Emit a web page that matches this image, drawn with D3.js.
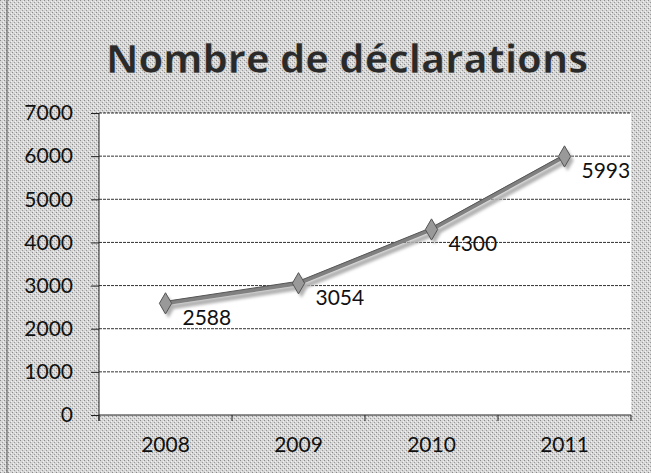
<!DOCTYPE html>
<meta charset="utf-8">
<style type="text/css">
  body { margin: 0; background: #fff; }
  .grid line { stroke: #333; stroke-width: 1; stroke-dasharray: 3 1; }
  .axis path, .axis line { stroke: #222; }
  .axis text { font-family: "Lato", "Open Sans", sans-serif; font-size: 21px; fill: #111; }
  .label { font-family: "Lato", "Open Sans", sans-serif; font-size: 21px; fill: #111; }
</style>
<body>
</body>
<script src="https://d3js.org/d3.v7.min.js"></script>
<script>
  // values
  var years = ["2008", "2009", "2010", "2011"];
  var declarations = [2588, 3054, 4300, 5993];
  var yTicks = [0, 1000, 2000, 3000, 4000, 5000, 6000, 7000];

  var W = 651, H = 473;
  var margin = { top: 113, right: 20, bottom: 58, left: 99 },
    width = W - margin.left - margin.right,
    height = H - margin.top - margin.bottom;

  var svg = d3.select("body").append("svg")
    .attr("width", W)
    .attr("height", H);

  // speckled grey background like the scan
  var defs = svg.append("defs");
  var pat = defs.append("pattern")
    .attr("id", "speckle")
    .attr("width", 4).attr("height", 4)
    .attr("patternUnits", "userSpaceOnUse");
  pat.append("rect").attr("width", 4).attr("height", 4).attr("fill", "#d6d6d6");
  pat.append("rect").attr("x", 0).attr("y", 0).attr("width", 1).attr("height", 1).attr("fill", "#8a8a8a");
  pat.append("rect").attr("x", 2).attr("y", 2).attr("width", 1).attr("height", 1).attr("fill", "#9a9a9a");
  pat.append("rect").attr("x", 3).attr("y", 1).attr("width", 1).attr("height", 1).attr("fill", "#f2f2f2");
  pat.append("rect").attr("x", 1).attr("y", 3).attr("width", 1).attr("height", 1).attr("fill", "#f2f2f2");

  var shadow = defs.append("filter").attr("id", "blur");
  shadow.append("feGaussianBlur").attr("stdDeviation", 1.5);

  svg.append("rect")
    .attr("width", W).attr("height", H)
    .attr("fill", "url(#speckle)");

  // thin frame edge of the scan
  svg.append("line").attr("x1", 7).attr("x2", 7).attr("y1", 0).attr("y2", H)
    .attr("stroke", "#555").attr("stroke-width", 1);

  // title
  svg.append("text")
    .attr("x", 347)
    .attr("y", 73)
    .attr("text-anchor", "middle")
    .style("font-family", "'Open Sans', 'DejaVu Sans', sans-serif")
    .style("font-weight", "bold")
    .style("font-size", "40px")
    .style("fill", "#2a2a2a")
    .style("stroke", "#ddd")
    .style("stroke-width", 0.5)
    .text("Nombre de déclarations");

  var g = svg.append("g")
    .attr("transform", "translate(" + margin.left + "," + margin.top + ")");

  var x = d3.scaleBand()
    .domain(years)
    .range([0, width]);

  var y = d3.scaleLinear()
    .domain([0, 7000])
    .range([height, 0]);

  // white plot area
  g.append("rect")
    .attr("width", width)
    .attr("height", height)
    .attr("fill", "#fff");

  // gridlines
  g.append("g")
    .attr("class", "grid")
    .selectAll("line")
    .data(yTicks.filter(function(d) { return d > 0; }))
    .enter().append("line")
    .attr("x1", 0).attr("x2", width)
    .attr("y1", function(d) { return y(d); })
    .attr("y2", function(d) { return y(d); });

  // y axis
  g.append("g")
    .attr("class", "axis")
    .call(d3.axisLeft(y).tickValues(yTicks).tickSize(8).tickPadding(18).tickFormat(d3.format("d")))
    .call(function(a) { a.select(".domain").attr("d", "M0," + (height + 6) + "V0"); });

  // x axis with ticks between categories
  var xAxis = g.append("g")
    .attr("class", "axis")
    .attr("transform", "translate(0," + height + ")")
    .call(d3.axisBottom(x).tickSize(0).tickPadding(22));
  xAxis.select(".domain").attr("d", "M0,0H" + width);
  xAxis.selectAll(".sep")
    .data(d3.range(years.length + 1))
    .enter().append("line")
    .attr("class", "sep")
    .attr("x1", function(i) { return i * x.bandwidth(); })
    .attr("x2", function(i) { return i * x.bandwidth(); })
    .attr("y1", 0).attr("y2", 6);

  var pts = years.map(function(yr, i) {
    return { year: yr, value: declarations[i] };
  });

  var line = d3.line()
    .x(function(d) { return x(d.year) + x.bandwidth() / 2; })
    .y(function(d) { return y(d.value); });

  var diamond = d3.symbol().type(d3.symbolDiamond).size(130);

  // blurred shadow of the series
  var sh = g.append("g").attr("transform", "translate(3,4)").attr("filter", "url(#blur)");
  sh.append("path").datum(pts).attr("d", line)
    .attr("fill", "none").attr("stroke", "#b0b0b0").attr("stroke-width", 5);
  sh.selectAll("path.m").data(pts).enter().append("path")
    .attr("class", "m").attr("d", diamond).attr("fill", "#b0b0b0")
    .attr("transform", function(d) { return "translate(" + (x(d.year) + x.bandwidth() / 2) + "," + y(d.value) + ")"; });

  // series line
  g.append("path").datum(pts).attr("d", line)
    .attr("fill", "none").attr("stroke", "#808080").attr("stroke-width", 4);
  g.append("path").datum(pts).attr("d", line)
    .attr("fill", "none").attr("stroke", "#555").attr("stroke-width", 1)
    .attr("transform", "translate(0,-2)");

  g.selectAll("path.marker").data(pts).enter().append("path")
    .attr("class", "marker")
    .attr("d", diamond)
    .attr("fill", "#999")
    .attr("stroke", "#555")
    .attr("stroke-width", 1)
    .attr("transform", function(d) { return "translate(" + (x(d.year) + x.bandwidth() / 2) + "," + y(d.value) + ")"; });

  // data labels, right-below of each point
  g.selectAll("text.label").data(pts).enter().append("text")
    .attr("class", "label")
    .attr("x", function(d) { return x(d.year) + x.bandwidth() / 2 + 17; })
    .attr("y", function(d) { return y(d.value) + 22; })
    .text(function(d) { return d.value; });
</script>
